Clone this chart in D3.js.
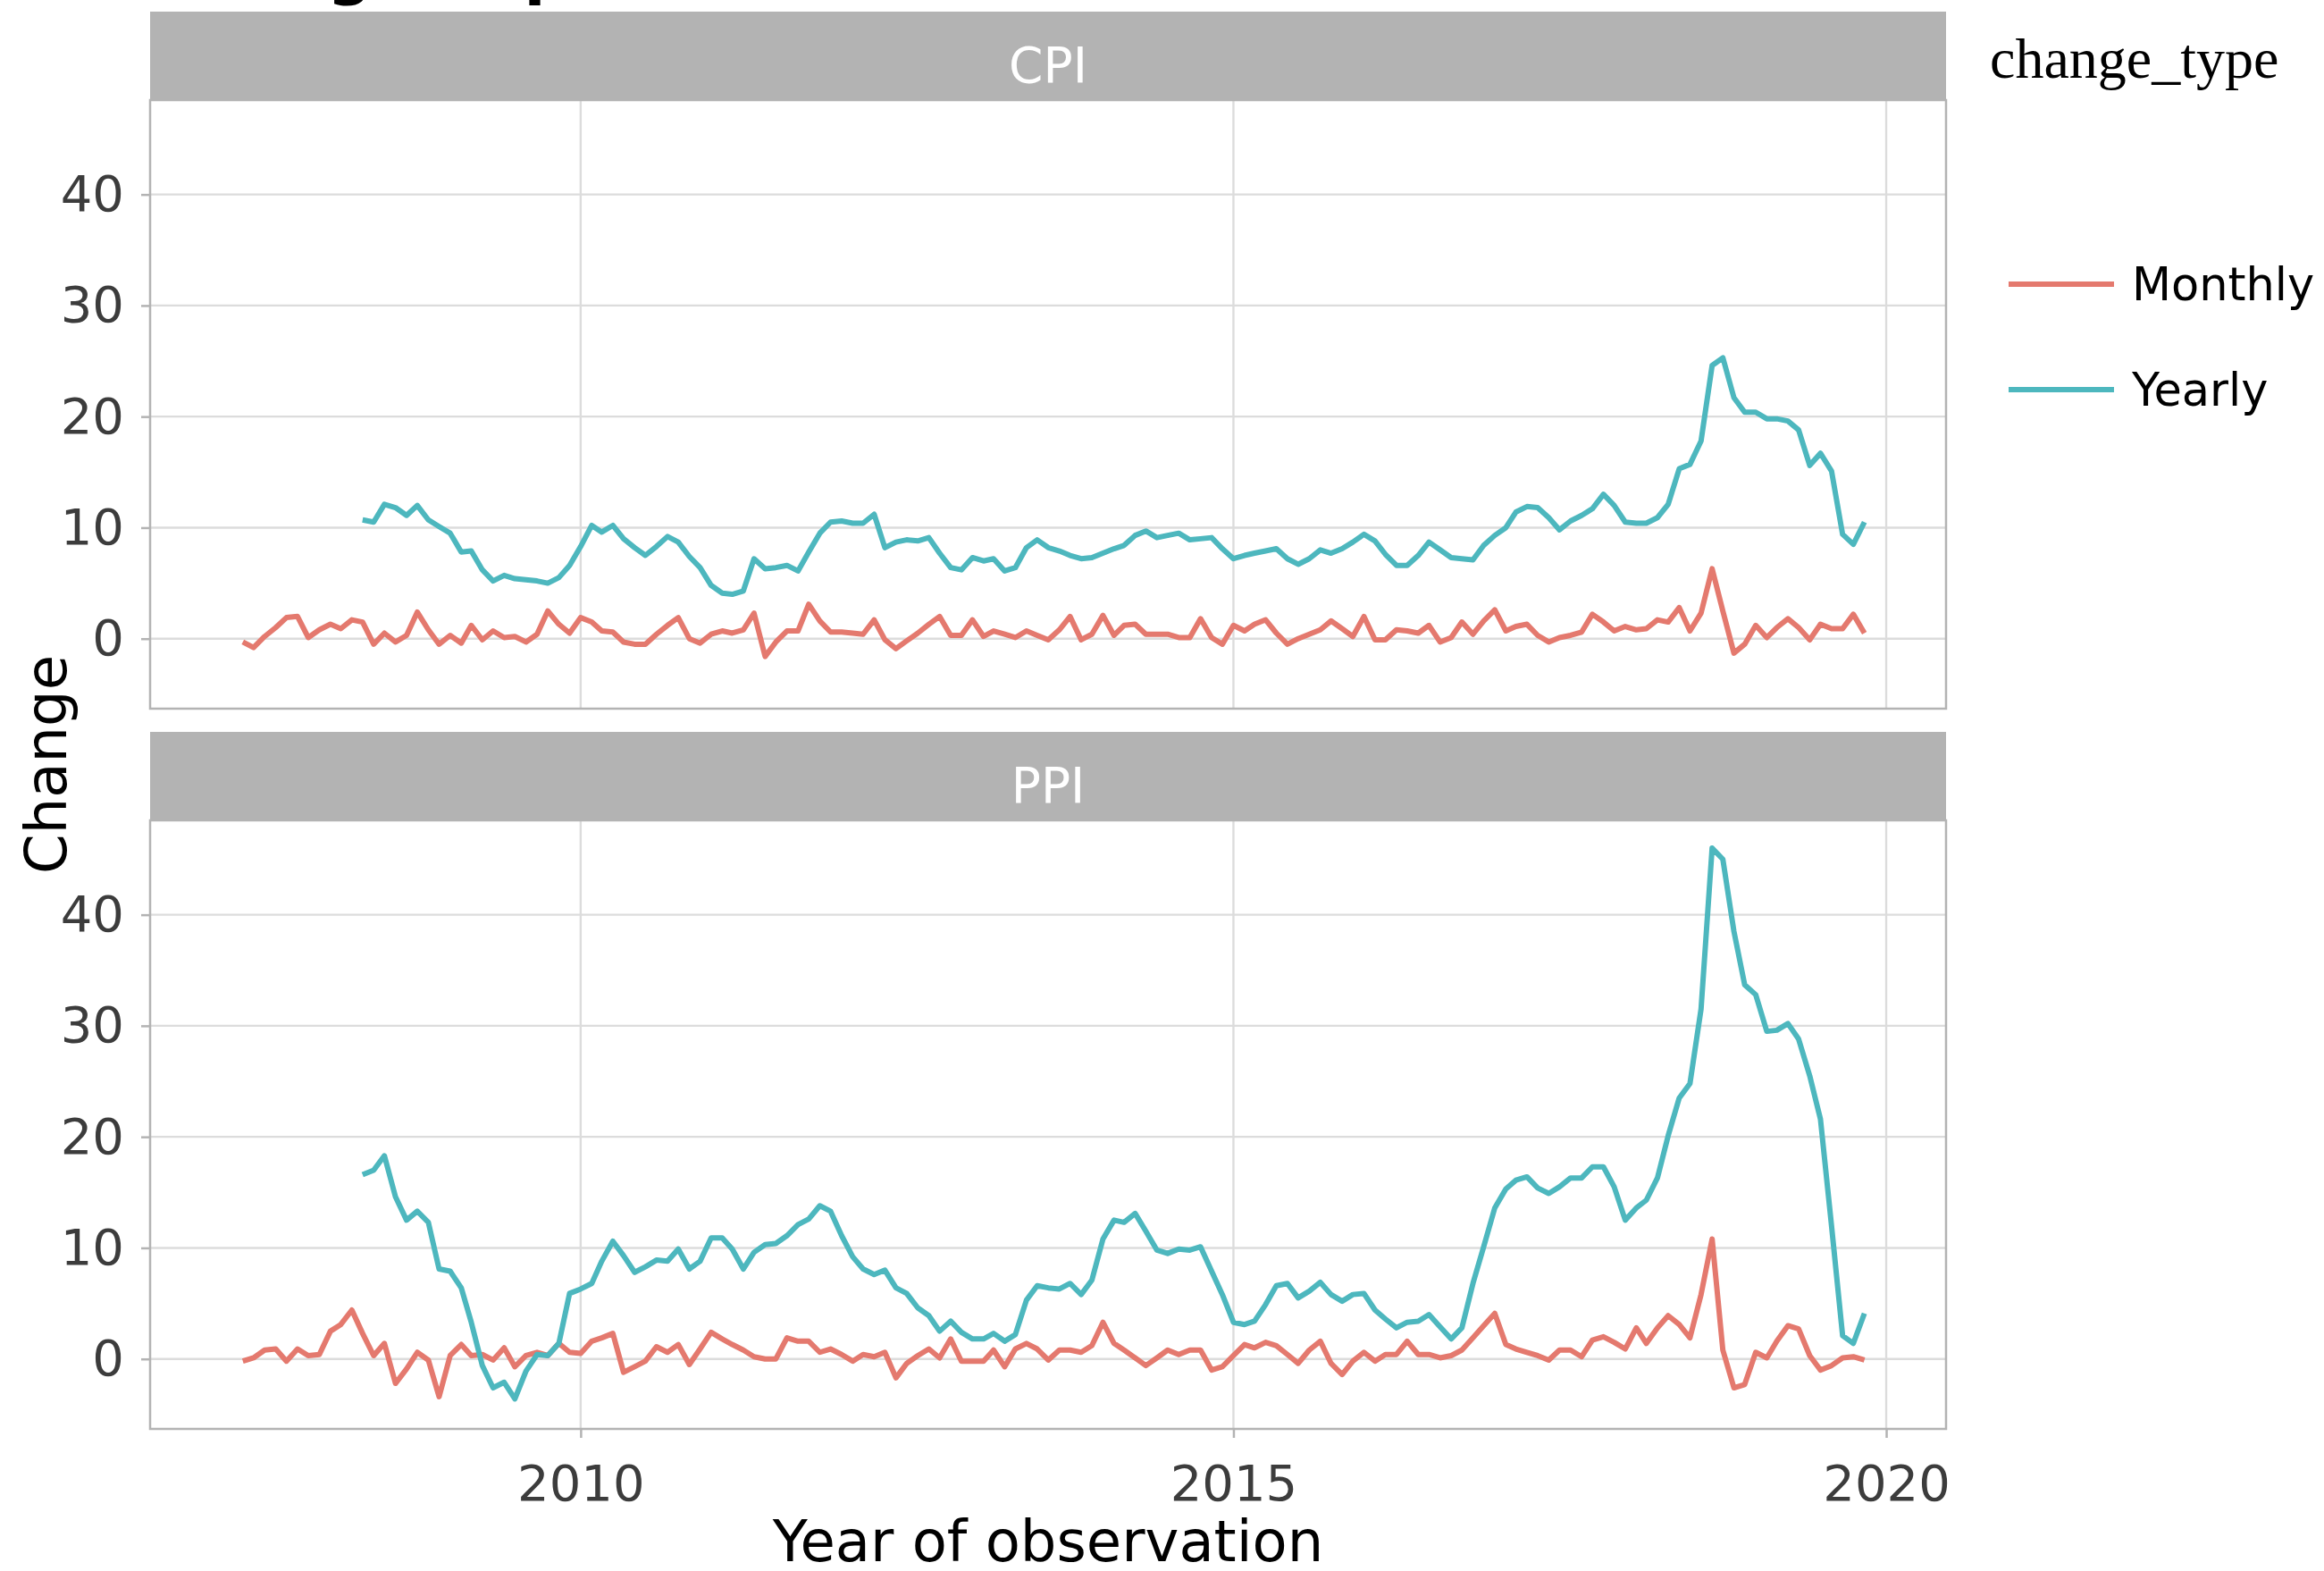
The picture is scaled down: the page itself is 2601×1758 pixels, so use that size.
<!DOCTYPE html>
<html><head><meta charset="utf-8">
<script src="https://cdn.jsdelivr.net/npm/d3@7"></script>
<style>html,body{margin:0;padding:0;background:#fff}</style>
</head><body>
<svg id="chart" width="2601" height="1758"></svg>
<script>
// ---------- data ----------
const panels = ["CPI", "PPI"];
const changeTypes = ["Monthly", "Yearly"];
const firstObservation = "2007-05-01";   // change is NA here, but it sets the x range
const lastObservation  = "2019-11-01";
const monthlyStart = "2007-06-01";
const yearlyStart  = "2008-05-01";
const xTickYears = [2010, 2015, 2020];
const yTicks = [0, 10, 20, 30, 40];

const cpiMonthly = [
 -0.3,-0.8,0.2,1.0,1.9,2.0,0.1,0.8,1.3,0.9,
 1.7,1.5,-0.5,0.5,-0.3,0.3,2.4,0.8,-0.5,0.3,
 -0.4,1.2,-0.1,0.7,0.1,0.2,-0.3,0.4,2.5,1.3,
 0.5,1.9,1.5,0.7,0.6,-0.3,-0.5,-0.5,0.4,1.2,
 1.9,0.0,-0.4,0.4,0.7,0.5,0.8,2.3,-1.6,-0.3,
 0.7,0.7,3.1,1.6,0.6,0.6,0.5,0.4,1.7,-0.1,
 -0.9,-0.2,0.5,1.3,2.0,0.3,0.3,1.7,0.2,0.7,
 0.4,0.1,0.7,0.3,-0.1,0.8,2.0,-0.1,0.4,2.1,
 0.3,1.2,1.3,0.4,0.4,0.4,0.1,0.1,1.8,0.1,
 -0.5,1.2,0.7,1.3,1.7,0.5,-0.5,0.0,0.4,0.8,
 1.6,0.9,0.2,2.0,-0.1,-0.1,0.8,0.7,0.5,1.2,
 -0.3,0.1,1.5,0.4,1.6,2.6,0.7,1.1,1.3,0.3,
 -0.3,0.1,0.3,0.6,2.2,1.5,0.7,1.1,0.8,0.9,
 1.7,1.5,2.8,0.7,2.3,6.3,2.5,-1.3,-0.5,1.2,
 0.1,1.0,1.8,1.0,-0.1,1.3,0.9,0.9,2.2,0.5
];
const cpiYearly = [
 10.7,10.5,12.1,11.8,11.1,12.0,10.7,10.1,9.5,
 7.8,7.9,6.2,5.2,5.7,5.4,5.3,5.2,5.0,5.5,
 6.6,8.3,10.2,9.6,10.2,9.0,8.2,7.5,8.3,9.2,
 8.7,7.4,6.4,4.8,4.1,4.0,4.3,7.2,6.3,6.4,
 6.6,6.1,7.8,9.5,10.5,10.6,10.4,10.4,11.2,8.2,
 8.7,8.9,8.8,9.1,7.7,6.4,6.2,7.3,7.0,7.2,
 6.1,6.4,8.2,8.9,8.2,7.9,7.5,7.2,7.3,7.7,
 8.1,8.4,9.3,9.7,9.1,9.3,9.5,8.9,9.0,9.1,
 8.1,7.2,7.5,7.7,7.9,8.1,7.2,6.7,7.2,8.0,
 7.7,8.1,8.7,9.4,8.8,7.6,6.6,6.6,7.5,8.7,
 8.0,7.3,7.2,7.1,8.4,9.3,10.0,11.4,11.9,11.8,
 10.9,9.8,10.6,11.1,11.7,13.0,12.0,10.5,10.4,10.4,
 10.9,12.1,15.3,15.7,17.8,24.6,25.3,21.7,20.4,20.4,
 19.8,19.8,19.6,18.8,15.6,16.7,15.1,9.4,8.5,10.5
];
const ppiMonthly = [
 -0.2,0.1,0.8,0.9,-0.2,0.9,0.3,0.4,2.5,3.1,
 4.4,2.3,0.3,1.4,-2.2,-0.9,0.6,-0.1,-3.4,0.3,
 1.3,0.3,0.4,-0.1,1.0,-0.7,0.3,0.6,0.3,1.4,
 0.6,0.5,1.6,1.9,2.3,-1.2,-0.7,-0.2,1.1,0.6,
 1.3,-0.5,0.9,2.4,1.8,1.3,0.8,0.2,0.0,0.0,
 1.9,1.6,1.6,0.6,0.9,0.4,-0.2,0.4,0.2,0.6,
 -1.7,-0.4,0.3,0.9,0.1,1.8,-0.2,-0.2,-0.2,0.8,
 -0.7,0.9,1.4,0.9,-0.1,0.8,0.8,0.6,1.2,3.3,
 1.4,0.8,0.1,-0.6,0.1,0.8,0.4,0.8,0.8,-1.0,
 -0.7,0.3,1.3,1.0,1.5,1.2,0.4,-0.4,0.8,1.6,
 -0.4,-1.4,-0.2,0.6,-0.2,0.4,0.4,1.6,0.4,0.4,
 0.1,0.3,0.8,1.9,3.0,4.1,1.3,0.9,0.6,0.3,
 -0.1,0.8,0.8,0.2,1.7,2.0,1.5,0.9,2.8,1.4,
 2.8,3.9,3.1,1.9,5.8,10.8,0.8,-2.6,-2.3,0.6,
 0.1,1.6,3.0,2.7,0.3,-1.0,-0.6,0.1,0.2,-0.1
];
const ppiYearly = [
 16.6,17.0,18.3,14.6,12.5,13.3,12.3,8.1,7.9,
 6.4,3.3,-0.6,-2.6,-2.1,-3.6,-1.1,0.4,0.3,1.4,
 5.9,6.3,6.8,8.8,10.6,9.3,7.8,8.3,8.9,8.8,
 9.9,8.1,8.8,10.9,10.9,9.9,8.1,9.6,10.3,10.4,
 11.1,12.1,12.6,13.8,13.3,11.1,9.2,8.1,7.6,8.0,
 6.4,5.9,4.6,3.9,2.5,3.4,2.4,1.8,1.8,2.3,
 1.6,2.2,5.3,6.6,6.4,6.3,6.8,5.8,7.1,10.8,
 12.5,12.3,13.1,11.5,9.8,9.5,9.9,9.8,10.1,7.9,
 5.8,3.3,3.1,3.4,4.9,6.6,6.8,5.5,6.1,6.9,
 5.8,5.2,5.8,5.9,4.4,3.6,2.8,3.3,3.4,4.0,
 2.9,1.8,2.8,6.8,10.1,13.6,15.3,16.1,16.4,15.4,
 14.9,15.5,16.3,16.3,17.3,17.3,15.5,12.5,13.6,14.3,
 16.3,20.1,23.5,24.8,31.5,46.0,45.0,38.5,33.7,32.8,
 29.5,29.6,30.2,28.8,25.5,21.6,12.0,2.1,1.4,4.1
];

// ---------- setup ----------
const parse = d3.utcParse("%Y-%m-%d");
function toSeries(start, values) {
  const s = parse(start);
  return values.map((v, i) => ({date: d3.utcMonth.offset(s, i), value: v}));
}
const seriesByPanel = {
  CPI: {Monthly: toSeries(monthlyStart, cpiMonthly), Yearly: toSeries(yearlyStart, cpiYearly)},
  PPI: {Monthly: toSeries(monthlyStart, ppiMonthly), Yearly: toSeries(yearlyStart, ppiYearly)}
};
const colors = d3.scaleOrdinal().domain(changeTypes).range(["#E4796E", "#4DB7BE"]);

const svg = d3.select("#chart");
const plotL = 168, plotR = 2178;
const stripH = 99, panelH = 681;
const panelTops = [13, 819];   // strip tops
const gridCol = "#DCDCDC", borderCol = "#B3B3B3";
const sans = "'DejaVu Sans', Verdana, sans-serif";

const d0 = parse(firstObservation), d1 = parse(lastObservation);
const span = d1 - d0;
const x = d3.scaleUtc()
  .domain([new Date(+d0 - 0.05 * span), new Date(+d1 + 0.05 * span)])
  .range([plotL, plotR]);
const yDomain = [-6.3, 48.5];

// title (largely clipped at the top of the image, as in the source)
svg.append("text").attr("x", plotL).attr("y", -8)
  .attr("font-family", sans).attr("font-weight", "bold").attr("font-size", 70)
  .attr("fill", "#000").text("Change in price indices");

panels.forEach((p, pi) => {
  const stripTop = panelTops[pi];
  const top = stripTop + stripH, bottom = top + panelH;
  const y = d3.scaleLinear().domain(yDomain).range([bottom, top]);
  const g = svg.append("g");

  // strip
  g.append("rect").attr("x", plotL).attr("y", stripTop)
    .attr("width", plotR - plotL).attr("height", stripH).attr("fill", borderCol);
  g.append("text").attr("x", (plotL + plotR) / 2).attr("y", stripTop + stripH / 2 + 10)
    .attr("dy", "0.36em").attr("text-anchor", "middle")
    .attr("font-family", sans).attr("font-size", 55).attr("fill", "#fff").text(p);

  // grid
  g.append("g").selectAll("line").data(yTicks).join("line")
    .attr("x1", plotL).attr("x2", plotR)
    .attr("y1", d => y(d)).attr("y2", d => y(d))
    .attr("stroke", gridCol).attr("stroke-width", 2.4);
  g.append("g").selectAll("line").data(xTickYears).join("line")
    .attr("x1", d => x(Date.UTC(d, 0, 1))).attr("x2", d => x(Date.UTC(d, 0, 1)))
    .attr("y1", top).attr("y2", bottom)
    .attr("stroke", gridCol).attr("stroke-width", 2.4);

  // lines
  const line = d3.line().x(d => x(d.date)).y(d => y(d.value));
  changeTypes.forEach(ct => {
    g.append("path").datum(seriesByPanel[p][ct])
      .attr("d", line).attr("fill", "none")
      .attr("stroke", colors(ct)).attr("stroke-width", 6)
      .attr("stroke-linejoin", "round");
  });

  // border
  g.append("rect").attr("x", plotL).attr("y", top)
    .attr("width", plotR - plotL).attr("height", panelH)
    .attr("fill", "none").attr("stroke", borderCol).attr("stroke-width", 2.5);

  // y axis
  const ya = g.append("g").attr("transform", `translate(${plotL},0)`)
    .call(d3.axisLeft(y).tickValues(yTicks).tickSize(10).tickPadding(19).tickFormat(d3.format("d")));
  ya.select(".domain").remove();
  ya.selectAll(".tick line").attr("stroke", borderCol).attr("stroke-width", 2.5);
  ya.selectAll(".tick text").attr("font-family", sans).attr("font-size", 56).attr("fill", "#3C3C3C");

  // x axis (bottom panel only)
  if (pi === panels.length - 1) {
    const xa = g.append("g").attr("transform", `translate(0,${bottom})`)
      .call(d3.axisBottom(x).tickValues(xTickYears.map(yr => new Date(Date.UTC(yr, 0, 1))))
        .tickSize(10).tickPadding(30).tickFormat(d3.utcFormat("%Y")));
    xa.select(".domain").remove();
    xa.selectAll(".tick line").attr("stroke", borderCol).attr("stroke-width", 2.5);
    xa.selectAll(".tick text").attr("font-family", sans).attr("font-size", 56).attr("fill", "#3C3C3C");
  }
});

// axis titles
svg.append("text").attr("x", (plotL + plotR) / 2).attr("y", 1747)
  .attr("text-anchor", "middle").attr("font-family", sans).attr("font-size", 64)
  .attr("fill", "#000").text("Year of observation");
svg.append("text").attr("transform", `translate(74,${(panelTops[0] + stripH + panelTops[1] + stripH + panelH) / 2}) rotate(-90)`)
  .attr("text-anchor", "middle").attr("font-family", sans).attr("font-size", 64)
  .attr("fill", "#000").text("Change");

// legend
const lg = svg.append("g");
lg.append("text").attr("x", 2227).attr("y", 87)
  .attr("font-family", "'Liberation Serif', 'Times New Roman', serif").attr("font-size", 64)
  .attr("fill", "#000").text("change_type");
changeTypes.forEach((ct, i) => {
  const ky = 318 + i * 118;
  lg.append("line").attr("x1", 2248).attr("x2", 2366).attr("y1", ky).attr("y2", ky)
    .attr("stroke", colors(ct)).attr("stroke-width", 6);
  lg.append("text").attr("x", 2386).attr("y", ky).attr("dy", "0.36em")
    .attr("font-family", sans).attr("font-size", 51).attr("fill", "#000").text(ct);
});
</script>
</body></html>
